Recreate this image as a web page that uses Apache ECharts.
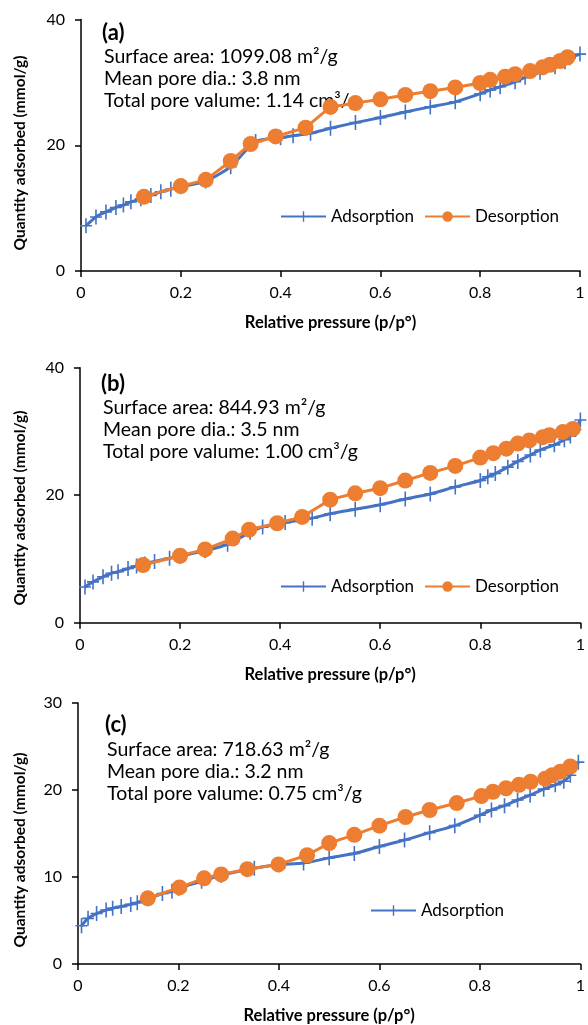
<!DOCTYPE html>
<html>
<head>
<meta charset="utf-8">
<script src="https://cdn.jsdelivr.net/npm/echarts@6/dist/echarts.min.js"></script>
<style>
  html, body { margin: 0; padding: 0; background: #fff; }
  #chart { width: 588px; height: 1025px; }
</style>
</head>
<body>
<div id="chart"></div>
<script>
// N2 isotherms for three samples: [relative pressure, quantity adsorbed (mmol/g)]
const adsorptionA = [
  [0.01, 7.2], [0.03, 8.6], [0.05, 9.4], [0.07, 10.1], [0.085, 10.5], [0.10, 11.0],
  [0.12, 11.5], [0.14, 12.0], [0.16, 12.6], [0.18, 13.0], [0.20, 13.4], [0.25, 14.3],
  [0.30, 16.6], [0.35, 20.6], [0.40, 21.2], [0.425, 21.5], [0.46, 21.9], [0.50, 22.7],
  [0.55, 23.6], [0.60, 24.4], [0.65, 25.3], [0.70, 26.1], [0.75, 26.9], [0.80, 28.2],
  [0.82, 28.8], [0.84, 29.3], [0.87, 30.1], [0.89, 30.8], [0.92, 31.6], [0.95, 32.5],
  [0.97, 33.3], [0.98, 33.9], [1.0, 34.5]
];
const desorptionA = [
  [0.126, 11.8], [0.20, 13.5], [0.25, 14.5], [0.30, 17.5], [0.34, 20.2], [0.39, 21.4],
  [0.45, 22.8], [0.50, 26.1], [0.55, 26.7], [0.60, 27.3], [0.65, 28.0], [0.70, 28.6],
  [0.75, 29.2], [0.80, 29.9], [0.82, 30.4], [0.85, 30.9], [0.87, 31.3], [0.90, 31.8],
  [0.925, 32.4], [0.94, 32.8], [0.96, 33.4], [0.975, 34.0]
];
const adsorptionB = [
  [0.01, 5.6], [0.026, 6.4], [0.046, 7.2], [0.063, 7.75], [0.076, 8.0], [0.096, 8.5],
  [0.113, 8.9], [0.13, 9.2], [0.149, 9.6], [0.179, 10.1], [0.20, 10.4], [0.25, 11.3],
  [0.295, 12.3], [0.34, 14.2], [0.365, 15.0], [0.41, 15.7], [0.464, 16.4], [0.50, 17.1],
  [0.55, 17.8], [0.60, 18.5], [0.65, 19.4], [0.70, 20.2], [0.75, 21.3], [0.80, 22.3],
  [0.815, 22.9], [0.83, 23.4], [0.855, 24.4], [0.875, 25.3], [0.90, 26.3], [0.92, 27.1],
  [0.948, 27.9], [0.968, 28.7], [0.98, 29.3], [0.99, 30.3], [1.0, 31.8]
];
const desorptionB = [
  [0.126, 9.05], [0.20, 10.5], [0.25, 11.5], [0.305, 13.2], [0.338, 14.6], [0.394, 15.6],
  [0.444, 16.6], [0.50, 19.3], [0.55, 20.3], [0.60, 21.1], [0.65, 22.3], [0.70, 23.5],
  [0.75, 24.6], [0.80, 25.9], [0.826, 26.6], [0.852, 27.3], [0.875, 28.1], [0.898, 28.6],
  [0.925, 29.1], [0.938, 29.4], [0.965, 29.9], [0.985, 30.4]
];
const adsorptionC = [
  [0.007, 4.4], [0.02, 5.25], [0.037, 5.8], [0.056, 6.2], [0.069, 6.4], [0.086, 6.6],
  [0.105, 6.85], [0.118, 7.05], [0.14, 7.5], [0.168, 8.1], [0.187, 8.35], [0.20, 8.7],
  [0.246, 9.5], [0.285, 10.2], [0.351, 11.0], [0.40, 11.4], [0.449, 11.6], [0.50, 12.2],
  [0.55, 12.7], [0.60, 13.5], [0.65, 14.25], [0.70, 15.1], [0.75, 15.9], [0.80, 17.1],
  [0.823, 17.7], [0.849, 18.2], [0.875, 18.85], [0.90, 19.4], [0.927, 20.1], [0.95, 20.6],
  [0.967, 21.0], [0.98, 21.7], [0.996, 23.2]
];
const desorptionC = [
  [0.139, 7.55], [0.202, 8.8], [0.251, 9.85], [0.285, 10.3], [0.337, 10.9], [0.399, 11.45],
  [0.456, 12.5], [0.50, 13.9], [0.55, 14.85], [0.60, 15.9], [0.652, 16.9], [0.70, 17.7],
  [0.754, 18.5], [0.803, 19.3], [0.826, 19.8], [0.852, 20.2], [0.878, 20.6], [0.901, 20.95],
  [0.93, 21.3], [0.944, 21.7], [0.96, 22.1], [0.98, 22.7]
];

// Panel annotations
const panelTags = ['(a)', '(b)', '(c)'];
const surfaceAreas = ['1099.08', '844.93', '718.63'];
const poreDiameters = ['3.8', '3.5', '3.2'];
const poreVolumes = ['1.14', '1.00', '0.75'];
const yMaxes = [40, 40, 30];
const yIntervals = [20, 20, 10];
const legendItems = [['Adsorption', 'Desorption'], ['Adsorption', 'Desorption'], ['Adsorption']];

const xTitle = 'Relative pressure (p/p\u00B0)';
const yTitle = 'Quantity adsorbed (mmol/g)';

const BLUE = '#4472C4';
const ORANGE = '#ED7D31';
const FONT = 'Lato';
const PLUS = 'path://M5.2,0 h1.6 v15 h-1.6 z M0,6.7 h12 v1.6 h-12 z';

const grids = [
  { left: 81, top: 19.5, width: 499, height: 251.5 },
  { left: 80, top: 367.7, width: 503, height: 255 },
  { left: 78, top: 703, width: 509, height: 261 }
];
const legendPos = [
  { left: 280, top: 208 },
  { left: 280, top: 578 },
  { left: 370, top: 902 }
];
const textPos = [
  { x: 102, tagY: 33, y0: 57, titleY: 153 },
  { x: 101, tagY: 384, y0: 408, titleY: 508 },
  { x: 105, tagY: 725, y0: 750, titleY: 850 }
];

const seriesSets = [
  [adsorptionA, desorptionA],
  [adsorptionB, desorptionB],
  [adsorptionC, desorptionC]
];

const axisColor = '#000';
const xAxes = [], yAxes = [], series = [], legends = [], graphics = [];

grids.forEach((g, i) => {
  xAxes.push({
    gridIndex: i, type: 'value', min: 0, max: 1, interval: 0.2,
    axisLine: { lineStyle: { color: axisColor, width: 1.5 } },
    axisTick: { length: 6, lineStyle: { color: axisColor, width: 1.5 } },
    axisLabel: { color: '#000', fontSize: 16, fontFamily: FONT, margin: 14 },
    splitLine: { show: false },
    name: xTitle, nameLocation: 'middle', nameGap: 43,
    nameTextStyle: { color: '#000', fontSize: 16.5, fontWeight: 'bold', fontFamily: FONT }
  });
  yAxes.push({
    gridIndex: i, type: 'value', min: 0, max: yMaxes[i], interval: yIntervals[i],
    axisLine: { show: true, lineStyle: { color: axisColor, width: 1.5 } },
    axisTick: { show: true, length: 6, lineStyle: { color: axisColor, width: 1.5 } },
    axisLabel: { color: '#000', fontSize: 16, fontFamily: FONT, margin: 16 },
    splitLine: { show: false }
  });
  const [ads, des] = seriesSets[i];
  series.push({
    name: 'Adsorption', type: 'line', xAxisIndex: i, yAxisIndex: i,
    data: ads, smooth: 0.25, symbol: PLUS, symbolSize: [12, 15], showAllSymbol: true,
    lineStyle: { color: BLUE, width: 3 },
    itemStyle: { color: BLUE }, z: 2
  });
  series.push({
    name: 'Desorption', type: 'line', xAxisIndex: i, yAxisIndex: i,
    data: des, symbol: 'circle', symbolSize: 16, showAllSymbol: true,
    lineStyle: { color: ORANGE, width: 3 },
    itemStyle: { color: ORANGE }, z: 3
  });
  legends.push({
    data: legendItems[i], left: legendPos[i].left, top: legendPos[i].top,
    orient: 'horizontal', padding: 0, itemWidth: 45, itemHeight: 13, itemGap: 10,
    textStyle: { color: '#000', fontSize: 17, fontFamily: FONT },
    selectedMode: false
  });
  const tp = textPos[i];
  // vertical axis title, reading bottom to top
  graphics.push({
    type: 'text', x: 20, y: tp.titleY, rotation: Math.PI / 2,
    style: { text: yTitle, font: 'bold 15.5px ' + FONT, fill: '#000', align: 'center', verticalAlign: 'middle' }
  });
  graphics.push({
    type: 'text', x: tp.x, y: tp.tagY,
    style: { text: panelTags[i], font: 'bold 22px ' + FONT, fill: '#000', verticalAlign: 'middle' }
  });
  const lines = [
    'Surface area: ' + surfaceAreas[i] + ' m\u00B2/g',
    'Mean pore dia.: ' + poreDiameters[i] + ' nm',
    'Total pore valume: ' + poreVolumes[i] + ' cm\u00B3/g'
  ];
  lines.forEach((t, k) => {
    graphics.push({
      type: 'text', x: tp.x + 2, y: tp.y0 + k * 22,
      style: { text: t, font: '19.5px ' + FONT, fill: '#000', verticalAlign: 'middle' }
    });
  });
});

const chart = echarts.init(document.getElementById('chart'), null, { renderer: 'canvas' });
chart.setOption({
  animation: false,
  backgroundColor: '#fff',
  grid: grids,
  xAxis: xAxes,
  yAxis: yAxes,
  legend: legends,
  series: series,
  graphic: graphics
});
</script>
</body>
</html>
